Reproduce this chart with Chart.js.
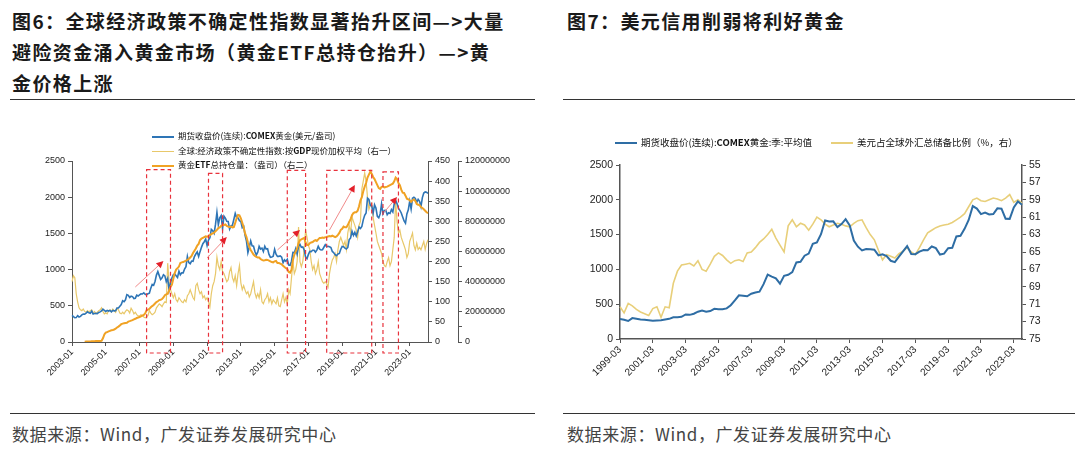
<!DOCTYPE html>
<html>
<head>
<meta charset="utf-8">
<script src="https://cdn.jsdelivr.net/npm/chart.js@4.4.1/dist/chart.umd.min.js"></script>
<style>
body{margin:0;background:#fff;}
#page{position:relative;width:1080px;height:455px;overflow:hidden;font-family:"Noto Sans CJK SC","Noto Sans",sans-serif;}
.title{position:absolute;font-size:19px;font-weight:bold;line-height:31px;letter-spacing:1.4px;color:#1a1a1a;white-space:nowrap;}
.rule{position:absolute;height:0;border-top:1.5px solid #333;}
.src{position:absolute;top:421px;font-size:17px;color:#444;letter-spacing:0.6px;white-space:nowrap;}
.lg{position:absolute;font-size:8.5px;line-height:12px;white-space:nowrap;color:#111;}
.lg i{display:inline-block;width:22px;height:0;border-top:2px solid;vertical-align:middle;margin-right:4px;}
.lg2{font-size:9.5px;}
canvas{position:absolute;}
</style>
</head>
<body>
<div id="page">
  <div class="title" style="left:12px;top:5px">图6：全球经济政策不确定性指数显著抬升区间—&gt;大量<br>避险资金涌入黄金市场（黄金ETF总持仓抬升）—&gt;黄<br>金价格上涨</div>
  <div class="title" style="left:567px;top:5px">图7：美元信用削弱将利好黄金</div>
  <div class="rule" style="left:10px;top:99px;width:525px"></div>
  <div class="rule" style="left:563px;top:99px;width:512px"></div>

  <canvas id="c1" width="540" height="282" style="left:0;top:105px"></canvas>
  <canvas id="c2" width="525" height="284" style="left:555px;top:105px"></canvas>

  <div class="lg" style="left:152px;top:129px"><i style="border-color:#2e75b6"></i>期货收盘价(连续):<b>COMEX</b>黄金(美元/盎司)</div>
  <div class="lg" style="left:152px;top:144px"><i style="border-color:#e8c86a;border-top-width:1.5px"></i>全球:经济政策不确定性指数:按<b>GDP</b>现价加权平均（右一）</div>
  <div class="lg" style="left:152px;top:158px"><i style="border-color:#f0a224"></i>黄金<b>ETF</b>总持仓量：（盎司）（右二）</div>

  <div class="lg lg2" style="left:615px;top:136px"><i style="border-color:#2e6da4"></i>期货收盘价(连续):<b>COMEX</b>黄金:季:平均值</div>
  <div class="lg lg2" style="left:831px;top:136px"><i style="border-color:#e8cf7a"></i>美元占全球外汇总储备比例（%，右）</div>

  <div class="rule" style="left:10px;top:413px;width:525px"></div>
  <div class="rule" style="left:563px;top:413px;width:512px"></div>
  <div class="src" style="left:12px">数据来源：Wind，广发证券发展研究中心</div>
  <div class="src" style="left:567px">数据来源：Wind，广发证券发展研究中心</div>
</div>
<script>
// ---------- Figure 6: monthly, 2003-01 .. 2024-02 ----------
var monthLabels = [];
for (var yy = 2003; yy <= 2024; yy++) {
	for (var mm = 1; mm <= 12; mm++) {
		if (yy === 2024 && mm > 2) break;
		monthLabels.push(yy + '-' + (mm < 10 ? '0' + mm : mm));
	}
}

// COMEX gold, USD/oz
var goldMonthly = [
	368, 350, 335, 337, 364, 346, 354, 375, 385, 384, 398, 416,
	403, 397, 426, 387, 394, 395, 391, 408, 416, 429, 453, 438,
	422, 436, 428, 436, 417, 436, 430, 433, 470, 471, 495, 518,
	569, 557, 583, 654, 644, 614, 633, 627, 600, 605, 648, 635,
	651, 666, 663, 680, 660, 651, 668, 674, 744, 795, 783, 836,
	924, 972, 917, 864, 887, 930, 914, 834, 880, 718, 815, 883,
	928, 942, 916, 891, 978, 927, 955, 955, 1008, 1040, 1181, 1096,
	1081, 1118, 1115, 1179, 1215, 1244, 1181, 1248, 1307, 1357, 1385, 1421,
	1332, 1409, 1439, 1556, 1536, 1502, 1628, 1790, 1620, 1714, 1746, 1566,
	1737, 1710, 1668, 1664, 1560, 1604, 1614, 1692, 1776, 1719, 1713, 1676,
	1663, 1578, 1596, 1472, 1393, 1234, 1313, 1395, 1328, 1323, 1250, 1202,
	1240, 1321, 1284, 1296, 1250, 1322, 1282, 1287, 1210, 1171, 1175, 1184,
	1279, 1213, 1183, 1183, 1190, 1172, 1095, 1134, 1115, 1142, 1064, 1060,
	1116, 1238, 1234, 1291, 1216, 1321, 1350, 1309, 1313, 1272, 1173, 1152,
	1210, 1252, 1249, 1268, 1268, 1242, 1269, 1322, 1283, 1271, 1275, 1309,
	1343, 1318, 1323, 1316, 1305, 1251, 1233, 1206, 1192, 1215, 1223, 1282,
	1321, 1316, 1298, 1284, 1306, 1413, 1437, 1529, 1472, 1514, 1464, 1523,
	1588, 1567, 1597, 1687, 1751, 1781, 1986, 1968, 1887, 1880, 1781, 1895,
	1850, 1734, 1716, 1769, 1907, 1771, 1817, 1818, 1757, 1784, 1775, 1829,
	1796, 1909, 1954, 1912, 1848, 1817, 1782, 1726, 1672, 1640, 1768, 1826,
	1945, 1837, 1986, 1999, 1982, 1929, 1970, 1943, 1870, 1994, 2057, 2072,
	2067, 2054
];

// global economic policy uncertainty index (right 1)
var epuMonthly = [
	150, 165, 160, 120, 100, 85, 80, 78, 82, 76, 74, 78,
	75, 78, 80, 72, 76, 70, 74, 78, 80, 85, 76, 70,
	72, 70, 78, 80, 75, 82, 78, 74, 84, 80, 72, 70,
	74, 70, 76, 80, 78, 72, 84, 78, 70, 74, 68, 65,
	64, 68, 66, 62, 60, 62, 66, 78, 72, 68, 70, 74,
	85, 90, 95, 92, 88, 95, 100, 98, 196, 150, 130, 120,
	110, 120, 105, 100, 110, 105, 100, 98, 105, 100, 115, 120,
	130, 120, 110, 105, 140, 146, 130, 120, 125, 110, 115, 105,
	110, 100, 87, 120, 140, 150, 170, 211, 190, 180, 200, 175,
	170, 160, 150, 155, 175, 185, 160, 150, 165, 140, 170, 190,
	147, 130, 140, 129, 120, 125, 112, 120, 135, 150, 122, 110,
	120, 110, 130, 100, 95, 105, 110, 120, 100, 110, 95, 105,
	100, 95, 110, 90, 88, 105, 120, 100, 110, 95, 130, 120,
	160, 200, 170, 180, 200, 286, 200, 187, 200, 230, 278, 260,
	240, 230, 200, 180, 190, 170, 180, 200, 170, 160, 150, 146,
	150, 145, 137, 170, 190, 204, 210, 220, 200, 230, 250, 260,
	250, 240, 250, 230, 271, 290, 270, 311, 300, 290, 278, 260,
	290, 300, 380, 400, 420, 400, 360, 330, 340, 345, 310, 290,
	271, 250, 240, 230, 220, 200, 190, 187, 200, 210, 190, 200,
	230, 260, 353, 300, 271, 278, 260, 250, 240, 229, 210, 220,
	250, 260, 271, 240, 229, 246, 230, 235, 229, 240, 250, 230,
	245, 254
];

// gold ETF total holdings, million oz (right 2)
var etfMonthlyMoz = [
	null, null, null, null, null, null, null, null, null, 0.2, 0.3, 0.3,
	0.4, 0.4, 0.5, 0.5, 0.5, 0.6, 0.6, 0.7, 0.7, 0.8, 2.5, 5.0,
	6.2, 6.6, 7.0, 7.4, 7.8, 8.0, 8.3, 8.8, 9.6, 10.2, 11.0, 11.8,
	12.2, 12.4, 12.6, 12.8, 13.5, 13.8, 14.2, 14.5, 15.0, 15.4, 15.9, 16.2,
	16.6, 17.0, 17.5, 18.0, 19.0, 21.0, 21.5, 22.0, 23.0, 23.8, 24.5, 25.5,
	26.5, 27.0, 27.8, 28.0, 28.5, 29.5, 31.0, 31.5, 32.0, 34.0, 36.5, 38.0,
	42.0, 45.7, 48.0, 49.0, 50.0, 52.4, 52.8, 53.0, 53.5, 54.0, 54.4, 55.0,
	56.0, 57.0, 59.0, 60.5, 62.0, 64.0, 65.0, 67.6, 68.5, 69.0, 69.5, 70.0,
	69.8, 70.2, 70.9, 71.5, 72.0, 72.5, 73.5, 74.3, 75.5, 76.0, 77.0, 77.6,
	77.6, 78.0, 77.0, 76.5, 76.2, 76.5, 76.0, 76.2, 79.0, 82.0, 84.2, 84.0,
	82.0, 79.0, 76.0, 72.0, 69.6, 66.0, 63.0, 61.0, 59.5, 58.0, 57.0, 56.4,
	56.0, 56.0, 55.0, 54.4, 54.0, 54.2, 54.5, 54.4, 54.0, 53.5, 53.0, 52.8,
	53.5, 53.8, 52.4, 52.4, 52.0, 51.5, 50.5, 49.7, 49.0, 48.5, 46.4, 46.0,
	48.0, 54.4, 58.0, 60.0, 62.0, 65.6, 67.5, 68.0, 68.5, 69.0, 66.0, 64.3,
	64.3, 65.5, 66.0, 66.3, 67.0, 67.5, 67.0, 68.0, 69.0, 69.0, 69.2, 69.0,
	69.5, 69.6, 70.0, 70.2, 70.0, 70.5, 70.0, 69.5, 70.0, 71.0, 72.3, 74.3,
	75.0, 76.5, 76.0, 76.0, 77.5, 79.6, 81.5, 84.0, 85.5, 86.0, 86.0, 87.0,
	90.0, 94.0, 96.0, 100.0, 103.0, 105.4, 109.0, 111.0, 113.0, 111.5, 109.4, 108.0,
	106.0, 104.0, 102.0, 101.5, 102.8, 103.0, 102.5, 102.8, 103.0, 103.5, 104.0, 104.5,
	105.0, 106.5, 109.0, 108.0, 105.4, 104.0, 101.0, 99.0, 98.8, 97.0, 95.0, 94.5,
	94.0, 93.0, 94.0, 94.5, 93.5, 91.5, 91.0, 90.8, 89.5, 88.8, 88.0, 87.0,
	86.0, 85.5
];
var etfMonthly = etfMonthlyMoz.map(function(v){ return v === null ? null : v * 1000000; });

// red dashed highlight windows and arrows (in data space)
var boxStarts = ['2007-06', '2011-02', '2015-10', '2018-02', '2021-06'];
var boxEnds   = ['2008-11', '2011-12', '2016-11', '2020-10', '2022-05'];
var boxTops   = [2380, 2330, 2370, 2370, 2350];
var arrowTails = [['2006-10', 760], ['2011-01', 1160], ['2015-03', 1271], ['2018-04', 1547], ['2021-07', 1796]];
var arrowHeads = [['2008-06', 1119], ['2012-03', 1450], ['2016-07', 1547], ['2019-10', 2169], ['2022-04', 2003]];

// ---------- Figure 7: quarterly, 1999-03 .. 2023-09 ----------
var quarterLabels = [];
for (var qy = 1999; qy <= 2023; qy++) {
	['03', '06', '09', '12'].forEach(function(q){
		if (qy === 2023 && q === '12') return;
		quarterLabels.push(qy + '-' + q);
	});
}
var goldQuarterly = [
	287, 276, 259, 300,  290, 280, 277, 270,  264, 267, 268, 279,  290, 312, 314, 318,
	352, 347, 363, 392,  408, 393, 401, 434,  427, 427, 440, 485,  554, 628, 622, 614,
	650, 667, 680, 788,  925, 896, 872, 795,  908, 922, 960, 1100, 1109, 1197, 1227, 1367,
	1386, 1506, 1702, 1688, 1691, 1609, 1652, 1722, 1632, 1415, 1326, 1272, 1293, 1288, 1282, 1201,
	1218, 1192, 1124, 1105, 1183, 1260, 1335, 1222, 1219, 1256, 1278, 1275, 1329, 1306, 1213, 1226,
	1304, 1310, 1474, 1482, 1583, 1711, 1909, 1874, 1794, 1816, 1789, 1796, 1877, 1872, 1729, 1726,
	1890, 1976, 1928
];
var usdShare = [
	71.3, 72.0, 70.9, 71.2, 71.6, 71.9, 72.1, 72.3, 71.5, 71.3, 72.5, 71.3,
	71.4, 68.6, 67.2, 66.5, 66.4, 66.3, 66.6, 66.0, 67.0, 67.2, 66.4, 65.5,
	65.1, 65.4, 65.9, 66.3, 66.0, 65.9, 66.1, 65.1, 65.0, 64.5, 63.9, 63.5,
	63.0, 62.4, 63.4, 64.2, 65.0, 62.0, 61.3, 62.1, 61.7, 61.9, 62.5, 61.8,
	61.0, 61.3, 61.8, 62.1, 61.9, 61.7, 61.8, 62.0, 62.1, 61.7, 61.4, 61.3,
	62.2, 63.0, 63.6, 64.8, 65.9, 65.3, 65.5, 65.7, 65.2, 64.9, 64.5, 65.0,
	65.3, 64.5, 63.6, 62.8, 62.5, 62.2, 62.0, 61.9, 61.8, 61.6, 61.3, 61.0,
	60.6, 59.8, 59.0, 58.8, 59.1, 59.2, 59.0, 58.8, 58.9, 59.1, 58.8, 58.4,
	59.3, 59.0, 59.4
];

Chart.defaults.font.family = 'Arial, "Liberation Sans", sans-serif';
Chart.defaults.color = '#222';
Chart.defaults.animation = false;

function axisGrid(){ return { drawOnChartArea: false, tickLength: 4, color: '#555' }; }
function plainNum(v){ return String(v); }

var highlightPlugin = {
	id: 'highlights',
	afterDatasetsDraw: function(chart) {
		var ctx = chart.ctx, xs = chart.scales.x, ys = chart.scales.y, area = chart.chartArea;
		ctx.save();
		ctx.strokeStyle = '#e8323c';
		ctx.lineWidth = 1.2;
		ctx.setLineDash([4, 3]);
		for (var i = 0; i < boxStarts.length; i++) {
			var x0 = xs.getPixelForValue(monthLabels.indexOf(boxStarts[i]));
			var x1 = xs.getPixelForValue(monthLabels.indexOf(boxEnds[i]));
			var y0 = ys.getPixelForValue(boxTops[i]);
			var y1 = area.bottom + 11;
			ctx.strokeRect(x0, y0, x1 - x0, y1 - y0);
		}
		ctx.setLineDash([]);
		for (var j = 0; j < arrowTails.length; j++) {
			var ax = xs.getPixelForValue(monthLabels.indexOf(arrowTails[j][0]));
			var ay = ys.getPixelForValue(arrowTails[j][1]);
			var bx = xs.getPixelForValue(monthLabels.indexOf(arrowHeads[j][0]));
			var by = ys.getPixelForValue(arrowHeads[j][1]);
			var ang = Math.atan2(by - ay, bx - ax);
			ctx.strokeStyle = '#f08a8a';
			ctx.lineWidth = 1;
			ctx.beginPath();
			ctx.moveTo(ax, ay);
			ctx.lineTo(bx - 5 * Math.cos(ang), by - 5 * Math.sin(ang));
			ctx.stroke();
			ctx.fillStyle = '#e3202a';
			ctx.beginPath();
			ctx.moveTo(bx, by);
			ctx.lineTo(bx - 7 * Math.cos(ang) + 3.5 * Math.sin(ang), by - 7 * Math.sin(ang) - 3.5 * Math.cos(ang));
			ctx.lineTo(bx - 7 * Math.cos(ang) - 3.5 * Math.sin(ang), by - 7 * Math.sin(ang) + 3.5 * Math.cos(ang));
			ctx.closePath();
			ctx.fill();
		}
		ctx.restore();
	}
};

new Chart(document.getElementById('c1'), {
	type: 'line',
	data: {
		labels: monthLabels,
		datasets: [
			{ label: '期货收盘价(连续):COMEX黄金(美元/盎司)', data: goldMonthly, yAxisID: 'y', borderColor: '#2e75b6', borderWidth: 1.6, order: 2 },
			{ label: '全球:经济政策不确定性指数:按GDP现价加权平均（右一）', data: epuMonthly, yAxisID: 'y1', borderColor: '#e8c86a', borderWidth: 1.2, order: 3 },
			{ label: '黄金ETF总持仓量：（盎司）（右二）', data: etfMonthly, yAxisID: 'y2', borderColor: '#f0a224', borderWidth: 2, order: 1 }
		]
	},
	options: {
		responsive: false,
		layout: { padding: { top: 56, left: 0, right: 0, bottom: 0 } },
		elements: { point: { radius: 0 }, line: { tension: 0 } },
		plugins: { legend: { display: false }, tooltip: { enabled: false } },
		scales: {
			x: {
				offset: false,
				grid: { drawOnChartArea: false, tickLength: 4, color: '#555', offset: false },
				border: { color: '#555' },
				ticks: { autoSkip: false, minRotation: 45, maxRotation: 45, font: { size: 9 }, padding: 1 },
				afterBuildTicks: function(s){ s.ticks = s.ticks.filter(function(t){ return t.value % 24 === 0; }); },
				afterFit: function(s){ s.height = 45; }
			},
			y: {
				position: 'left', min: 0, max: 2500,
				ticks: { stepSize: 500, font: { size: 9 }, callback: plainNum },
				grid: axisGrid(), border: { color: '#555' },
				afterFit: function(s){ s.width = 72; }
			},
			y1: {
				position: 'right', min: 0, max: 450,
				ticks: { stepSize: 50, font: { size: 9 }, callback: plainNum },
				grid: axisGrid(), border: { color: '#555' },
				afterFit: function(s){ s.width = 30; }
			},
			y2: {
				position: 'right', min: 0, max: 120000000,
				ticks: { stepSize: 10000000, font: { size: 9 }, callback: function(v){ return v % 20000000 === 0 ? String(v) : ''; } },
				grid: axisGrid(), border: { color: '#555' },
				afterFit: function(s){ s.width = 82; }
			}
		}
	},
	plugins: [highlightPlugin]
});

new Chart(document.getElementById('c2'), {
	type: 'line',
	data: {
		labels: quarterLabels,
		datasets: [
			{ label: '期货收盘价(连续):COMEX黄金:季:平均值', data: goldQuarterly, yAxisID: 'y', borderColor: '#2e6da4', borderWidth: 2 },
			{ label: '美元占全球外汇总储备比例（%，右）', data: usdShare, yAxisID: 'y1', borderColor: '#e8cf7a', borderWidth: 1.6 }
		]
	},
	options: {
		responsive: false,
		layout: { padding: { top: 60, left: 0, right: 0, bottom: 0 } },
		elements: { point: { radius: 0 }, line: { tension: 0 } },
		plugins: { legend: { display: false }, tooltip: { enabled: false } },
		scales: {
			x: {
				offset: false,
				grid: { drawOnChartArea: false, tickLength: 4, color: '#555', offset: false },
				border: { color: '#555', width: 1.5 },
				ticks: { autoSkip: false, minRotation: 45, maxRotation: 45, font: { size: 10 }, padding: 1 },
				afterBuildTicks: function(s){ s.ticks = s.ticks.filter(function(t){ return t.value % 8 === 0; }); },
				afterFit: function(s){ s.height = 50; }
			},
			y: {
				position: 'left', min: 0, max: 2500,
				ticks: { stepSize: 500, font: { size: 10.5 }, callback: plainNum },
				grid: axisGrid(), border: { color: '#555', width: 1.5 },
				afterFit: function(s){ s.width = 65; }
			},
			y1: {
				position: 'right', reverse: true, min: 55, max: 75,
				ticks: { stepSize: 2, font: { size: 10.5 }, callback: plainNum },
				grid: axisGrid(), border: { color: '#555', width: 1.5 },
				afterFit: function(s){ s.width = 58; }
			}
		}
	}
});
</script>
</body>
</html>
